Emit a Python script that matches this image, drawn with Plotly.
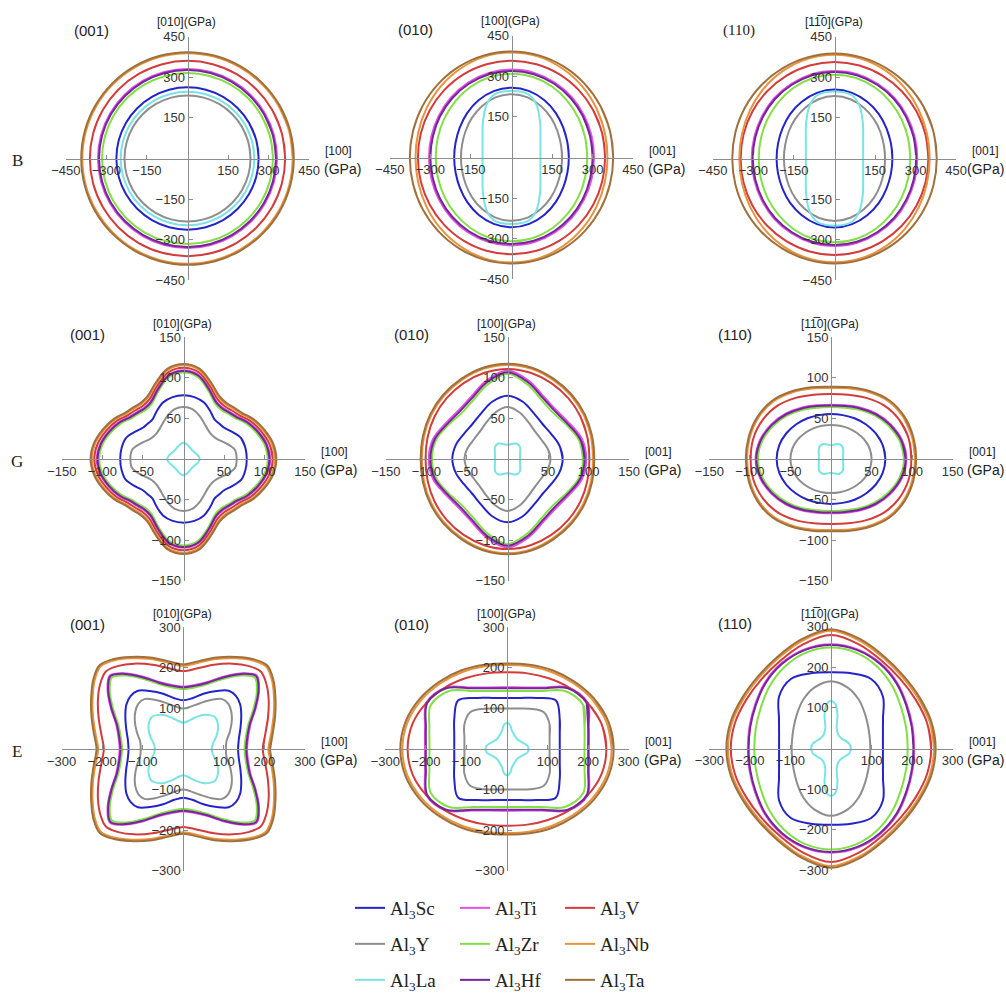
import numpy as np
import plotly.graph_objects as go

W, H = 1006, 994

# ---------------------------------------------------------------- materials
NAMES = ["Sc", "Ti", "V", "Y", "Zr", "Nb", "La", "Hf", "Ta"]
COLORS = ["#2424c8", "#e052e0", "#d23c3c", "#8e8e8e", "#82e045",
          "#e8923c", "#7ae4e4", "#74269a", "#a0703c"]

# angles (deg) at which radii are tabulated in the first quadrant
ANG7 = [0, 15, 30, 45, 60, 75, 90]
ANGQ = [0, 10, 20, 30, 38, 45, 52, 60, 70, 80, 90]   # finer grid for (001) planes

# ---------------------------------------------------------------- bulk modulus B (GPa)
B_001 = {
    "Sc": [263] * 7, "Ti": [331] * 7, "V": [361] * 7,
    "Y": [233] * 7, "Zr": [316] * 7, "Nb": [389] * 7,
    "La": [247] * 7, "Hf": [327] * 7, "Ta": [393] * 7,
}
B_010 = {
    "Sc": [212, 214, 221, 232, 244, 254, 258],
    "Ti": [305, 306.5, 310, 315, 320, 324, 325],
    "V": [346, 347, 349, 352, 355, 357, 358],
    "Y": [187, 189, 196, 207, 219, 230, 234],
    "Zr": [280, 282, 287, 294, 302, 308, 310],
    "Nb": [355, 357, 363, 371, 379, 386, 388],
    "La": [107, 110.8, 123.6, 151.3, 171, 217, 242, 246],
    "Hf": [300, 301, 305, 310, 315, 319, 320],
    "Ta": [376, 377, 380, 384, 388, 391, 392],
}
B_110 = {
    "Sc": [214, 216, 222, 232, 242, 251, 255],
    "Ti": [306, 307, 310, 315, 319, 323, 324],
    "V": [347, 348, 350, 352, 354, 356, 357],
    "Y": [187, 189, 196, 206, 217, 227, 231],
    "Zr": [280, 282, 287, 294, 302, 308, 310],
    "Nb": [352, 354, 360, 368, 376, 382, 384],
    "La": [106, 109.7, 122.4, 150, 170, 217, 243, 248],
    "Hf": [302, 303, 306, 311, 315, 319, 320],
    "Ta": [378, 379, 381, 383, 385, 387, 388],
}

# ---------------------------------------------------------------- shear modulus G (GPa)
G_001 = {
    "Sc": [78, 77.5, 75.5, 68, 63, 62, 62, 67, 74, 77.5, 78.5],
    "Ti": [107, 104.5, 98.5, 91.5, 84.5, 81.5, 79.5, 81.5, 92.5, 105.5, 109.5],
    "V": [110, 107.5, 101.5, 94.5, 87.5, 84.5, 82.5, 84.5, 95.5, 108.5, 112.5],
    "Y": [65.5, 64.4, 56, 48.5, 46, 46, 47.5, 51, 57, 62.5, 64],
    "Zr": [104, 101.5, 95.5, 88.5, 81.5, 78.5, 76.5, 78.5, 89.5, 102.5, 106.5],
    "Nb": [113, 110.5, 104.5, 97.5, 90.5, 87.5, 85.5, 87.5, 98.5, 111.5, 115.5],
    "La": [20, 19, 17.3, 16, 15.5, 15.3, 15.5, 16, 17.3, 19, 20],
    "Hf": [106, 103.5, 97.5, 90.5, 83.5, 80.5, 78.5, 80.5, 91.5, 104.5, 108.5],
    "Ta": [114.5, 112, 106, 99, 92, 89, 87, 89, 100, 113, 117],
}
G_010 = {
    "Sc": [68, 66, 62, 61, 65, 73, 78],
    "Ti": [97, 95, 88, 85, 89, 100, 109],
    "V": [101, 102, 104, 106, 108, 110, 111],
    "Y": [53, 51, 48, 48, 52, 59, 64],
    "Zr": [93, 91, 84, 80, 84, 95, 105],
    "Nb": [105.5, 106.5, 108.5, 110.5, 112.5, 115, 116],
    "La": [15.5, 16, 18, 21.5, 22, 19, 17.5],
    "Hf": [95, 93, 86, 83, 87, 98, 107],
    "Ta": [107, 108, 110, 112, 114, 116.5, 117.5],
}
G_110 = {
    "Sc": [67, 66, 63.5, 60.5, 58, 56, 55.5],
    "Ti": [93, 90.5, 85, 79, 73, 68.5, 67],
    "V": [99, 99, 97, 93, 87, 82, 80],
    "Y": [50, 49.3, 47.5, 45.3, 43.6, 42.4, 42],
    "Zr": [90, 87.5, 82, 76, 70, 65.5, 64],
    "Nb": [103.5, 103.5, 103, 100.5, 95, 90, 87.5],
    "La": [15, 15.5, 17.5, 20.5, 21, 18.5, 17],
    "Hf": [92, 89.5, 84, 78, 72, 67.5, 66],
    "Ta": [105, 105, 104.5, 102, 96.5, 91.5, 89],
}

# ---------------------------------------------------------------- Young's modulus E (GPa)
E_001 = {
    "Sc": [135, 139, 150, 165, 178, 184, 182, 165, 145, 127, 120],
    "Ti": [157, 162, 176, 207, 237, 256, 237, 207, 176, 160, 154],
    "V": [196, 205, 222, 243, 260, 270, 260, 243, 221, 202, 192],
    "Y": [105, 108, 122, 138, 150, 157, 156, 140, 120, 106, 100],
    "Zr": [151, 156, 170, 200, 230, 249, 230, 200, 170, 154, 148],
    "Nb": [210, 220, 237, 258, 277, 288, 277, 258, 236, 216, 205],
    "La": [70, 74, 86, 99, 107, 111, 106, 97, 82, 70, 65],
    "Hf": [155, 160, 174, 205, 235, 254, 235, 205, 174, 158, 152],
    "Ta": [214, 224, 241, 262, 281, 292, 281, 262, 240, 220, 209],
}
E_010 = {
    "Sc": [130, 134.6, 150, 170, 145.5, 130.4, 126],
    "Ti": [202, 209, 229, 214, 175, 157, 152],
    "V": [245, 241, 229, 215, 202, 193, 189],
    "Y": [105, 108.7, 121.3, 128.3, 114.6, 103.5, 100],
    "Zr": [191, 198, 217, 202, 165, 148, 143],
    "Nb": [258, 254, 243, 230, 219, 211, 207],
    "La": [53, 51.5, 47, 38, 35, 38, 47, 60, 65],
    "Hf": [200, 207, 227, 212, 173, 155, 150],
    "Ta": [263, 259, 248, 235, 224, 215, 211],
}
E_110 = {
    "Sc": [128, 132.5, 148, 181, 198, 192, 188],
    "Ti": [205, 208, 216, 230, 243, 253, 257],
    "V": [247, 245, 241, 242, 250, 266, 280],
    "Y": [97, 99, 106, 119, 138, 156, 166],
    "Zr": [189, 192, 200, 215, 231, 244, 249],
    "Nb": [254, 252, 248, 249, 258, 275, 290],
    "La": [49, 46.5, 39.5, 36, 37.5, 51, 83.5, 107.7, 114.2, 117],
    "Hf": [203, 206, 214, 228, 241, 251, 255],
    "Ta": [258, 256, 252, 253, 262, 279, 294],
}

# Al3La curves sampled on their own angle grids
LA_B_ANG = [0, 15, 30, 45, 52, 65, 75, 90]
LA_E010_ANG = [0, 8, 15, 30, 45, 60, 75, 83, 90]
LA_E110_ANG = [0, 15, 30, 45, 60, 74, 79, 83.6, 86.5, 90]

TICKS_B = [-450, -300, -150, 150, 300, 450]
TICKS_G = [-150, -100, -50, 50, 100, 150]
TICKS_E = [-300, -200, -100, 100, 200, 300]

# panel layout: data, angle grid, axis range, ticks, centre in px, labels
PANELS = [
    dict(data=B_001, ang=ANG7, R=450, ticks=TICKS_B, c=(187.5, 158.5), plane="(001)", hx="[100]", vy="[010]", serif=False, la=None),
    dict(data=B_010, ang=ANG7, R=450, ticks=TICKS_B, c=(511.5, 157.5), plane="(010)", hx="[001]", vy="[100]", serif=False, la=LA_B_ANG),
    dict(data=B_110, ang=ANG7, R=450, ticks=TICKS_B, c=(834.5, 158.5), plane="(110)", hx="[001]", vy="[11\u03050]", serif=True, la=LA_B_ANG),
    dict(data=G_001, ang=ANGQ, R=150, ticks=TICKS_G, c=(183.5, 459), plane="(001)", hx="[100]", vy="[010]", serif=False, la=None),
    dict(data=G_010, ang=ANG7, R=150, ticks=TICKS_G, c=(507.5, 459), plane="(010)", hx="[001]", vy="[100]", serif=False, la=None),
    dict(data=G_110, ang=ANG7, R=150, ticks=TICKS_G, c=(831.0, 459), plane="(110)", hx="[001]", vy="[11\u03050]", serif=False, la=None),
    dict(data=E_001, ang=ANGQ, R=300, ticks=TICKS_E, c=(183.3, 749), plane="(001)", hx="[100]", vy="[010]", serif=False, la=None),
    dict(data=E_010, ang=ANG7, R=300, ticks=TICKS_E, c=(507.0, 749), plane="(010)", hx="[001]", vy="[100]", serif=False, la=LA_E010_ANG),
    dict(data=E_110, ang=ANG7, R=300, ticks=TICKS_E, c=(831.0, 748.5), plane="(110)", hx="[001]", vy="[11\u03050]", serif=False, la=LA_E110_ANG),
]
ROW_LABELS = [("B", 158.5), ("G", 459), ("E", 749)]
HALF = 121.7  # half axis length in px

SANS = "Liberation Sans, Arial, sans-serif"
SERIF = "Liberation Serif, Times New Roman, serif"


def closed_curve(ang, r):
    th = np.radians(np.asarray(ang, dtype=float))
    r = np.asarray(r, dtype=float)
    x1, y1 = r * np.cos(th), r * np.sin(th)
    # reflect the first quadrant into the other three
    xs = np.concatenate([x1, -x1[::-1][1:], -x1[1:], x1[::-1][1:]])
    ys = np.concatenate([y1, y1[::-1][1:], -y1[1:], -y1[::-1][1:]])
    # run past the start so the spline closes smoothly
    return np.concatenate([xs, xs[1:3]]), np.concatenate([ys, ys[1:3]])


def px_x(px):
    return px / W


def px_y(py):
    return 1 - py / H


fig = go.Figure()
annotations = []
legend_of = ["legend"] * 3 + ["legend2"] * 3 + ["legend3"] * 3

for i, p in enumerate(PANELS):
    k = i + 1
    xa, ya = ("x", "y") if k == 1 else (f"x{k}", f"y{k}")
    for j, name in enumerate(NAMES):
        ang = p["la"] if (name == "La" and p["la"] is not None) else p["ang"]
        x, y = closed_curve(ang, p["data"][name])
        fig.add_trace(go.Scatter(
            x=x, y=y, mode="lines", name=f"Al<sub>3</sub>{name}",
            line=dict(color=COLORS[j], width=2, shape="spline", smoothing=1),
            xaxis=xa, yaxis=ya, hoverinfo="skip",
            showlegend=(i == 0), legend=legend_of[j],
        ))

    cx, cy = p["c"]
    axis_common = dict(
        range=[-p["R"], p["R"]], anchor="free", showgrid=False, zeroline=False,
        automargin=False, showline=True, linecolor="#8c8c8c", linewidth=1,
        ticks="inside", ticklen=4, tickwidth=1, tickcolor="#8c8c8c",
        tickvals=p["ticks"], tickfont=dict(family=SANS, size=13, color="#333333"),
        fixedrange=True,
    )
    fig.update_layout({
        ("xaxis" if k == 1 else f"xaxis{k}"): dict(
            axis_common, domain=[px_x(cx - HALF), px_x(cx + HALF)], position=px_y(cy)),
        ("yaxis" if k == 1 else f"yaxis{k}"): dict(
            axis_common, domain=[px_y(cy + HALF), px_y(cy - HALF)], position=px_x(cx)),
    })

    def note(text, px, py, size, family=SANS):
        annotations.append(dict(
            text=text, x=px_x(px), y=px_y(py), xref="paper", yref="paper",
            showarrow=False, xanchor="center", yanchor="middle",
            font=dict(family=family, size=size, color="#222222")))

    note(p["plane"], cx - 96, cy - (128 if i < 3 else 125), 15, SERIF if p["serif"] else SANS)
    note(p["vy"] + "(GPa)", cx - 1, cy - (137 if i < 3 else 135), 12)
    note(p["hx"], min(cx + 151, W - 21), cy - 7, 12)
    note("(GPa)", min(cx + 155, W - 21), cy + 11, 14)

for txt, yy in ROW_LABELS:
    annotations.append(dict(
        text=txt, x=px_x(17), y=px_y(yy + 2), xref="paper", yref="paper",
        showarrow=False, xanchor="center", yanchor="middle",
        font=dict(family=SERIF, size=17, color="#222222")))

legend_common = dict(
    orientation="h", xanchor="left", yanchor="middle", x=px_x(350),
    entrywidth=60, itemwidth=30, bgcolor="rgba(0,0,0,0)",
    font=dict(family=SERIF, size=19, color="#222222"), itemclick=False,
)

fig.update_layout(
    width=W, height=H, margin=dict(l=0, r=0, t=0, b=0, autoexpand=False),
    paper_bgcolor="white", plot_bgcolor="rgba(0,0,0,0)",
    annotations=annotations,
    legend=dict(legend_common, y=px_y(908)),
    legend2=dict(legend_common, y=px_y(944)),
    legend3=dict(legend_common, y=px_y(980)),
)

fig.write_html("out.html", config={"displayModeBar": False})
